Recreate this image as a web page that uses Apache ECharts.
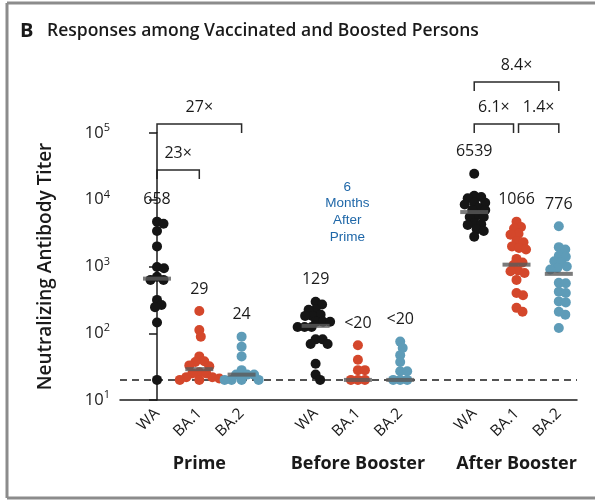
<!DOCTYPE html>
<html><head><meta charset="utf-8">
<script src="https://cdn.jsdelivr.net/npm/echarts@6/dist/echarts.min.js"></script>
<style>html,body{margin:0;padding:0;background:#fff}#c{width:595px;height:500px}</style>
</head><body><div id="c"></div><script>
// ---- data ----
const groupNames = ['Prime', 'Before Booster', 'After Booster'];
const variantNames = ['WA', 'BA.1', 'BA.2'];
const positions = [0, 1, 2, 3.75, 4.75, 5.75, 7.5, 8.5, 9.5];
const geoMeanValues = [658, 29, 24, 129, 20, 20, 6539, 1066, 776];
const geoMeanLabels = ['658', '29', '24', '129', '<20', '<20', '6539', '1066', '776'];
const primeWA = [4700, 4365, 3400, 2000, 980, 940, 700, 630, 630, 316, 265, 246, 145, 20];
const primeBA1 = [215, 112, 89, 45, 38, 37, 33, 32, 26, 25, 25, 22, 22, 21, 20, 20];
const primeBA2 = [89, 63, 45, 28, 24, 24, 24, 20, 20, 20, 20];
const beforeWA = [296, 270, 224, 224, 190, 182, 182, 149, 149, 149, 124, 124, 124, 81, 81, 69, 69, 35, 24, 20];
const beforeBA1 = [66, 40, 28, 28, 20, 20, 20];
const beforeBA2 = [75, 60, 47, 37, 27, 27, 20, 20, 20];
const afterWA = [24500, 11500, 11000, 10500, 9000, 9000, 8500, 7500, 7000, 7000, 5800, 5500, 5500, 4500, 4300, 4200, 3600, 3400, 2800];
const afterBA1 = [4700, 3900, 3700, 3100, 3000, 2400, 2300, 2000, 1900, 1800, 1300, 1150, 1050, 870, 850, 800, 630, 400, 370, 240, 210];
const afterBA2 = [4000, 1950, 1800, 1450, 1400, 1200, 1150, 1000, 950, 900, 570, 560, 420, 400, 300, 290, 210, 190, 120];
const limitOfDetection = 20;
const foldLabels = ['23×', '27×', '6.1×', '1.4×', '8.4×'];
const foldFrom = [0, 0, 6, 7, 6];
const foldTo = [1, 2, 7, 8, 8];
const foldLevel = [0, 1, 1, 1, 2];
// ---- style ----
const allValues = [primeWA, primeBA1, primeBA2, beforeWA, beforeBA1, beforeBA2, afterWA, afterBA1, afterBA2];
const colors = ['#151515', '#d4472b', '#5e9cb8'];
const FONT = 'Open Sans';
const TXT = '#1a1a1a';

// deterministic beeswarm layout (pixel-space spacing, returned in data units)
function swarm(values, center) {
  const pxX = 42.3, pxY = 66.7, minD = 6.8, step = 0.5;
  const placed = [];
  const sorted = values.slice().sort((a, b) => b - a);
  return sorted.map(v => {
    const py = Math.log10(v) * pxY;
    let best = 0;
    for (let k = 0; k < 400; k++) {
      const off = (k === 0 ? 0 : (k % 2 ? 1 : -1) * Math.ceil(k / 2) * step);
      const ok = placed.every(p => Math.hypot(p[0] - off, p[1] - py) >= minD);
      if (ok) { best = off; break; }
    }
    placed.push([best, py]);
    return [center + best / pxX, v];
  });
}

const chart = echarts.init(document.getElementById('c'), null, {renderer: 'canvas'});
const series = allValues.map((vals, i) => {
  const pts = swarm(vals, positions[i]);
  // the highest point carries the group's geometric-mean label
  const data = pts.map((pt, j) => j === 0 ? {
    value: pt,
    label: {
      show: true, position: 'top', distance: 9,
      formatter: geoMeanLabels[i],
      fontFamily: FONT, fontSize: 16, color: TXT, opacity: 1
    }
  } : pt);
  return {
    type: 'scatter',
    xAxisIndex: 0, yAxisIndex: 0,
    symbol: 'circle',
    symbolSize: 10,
    itemStyle: {color: colors[i % 3], opacity: 1},
    data: data,
    z: 2
  };
});
series.push({
  type: 'scatter',
  symbol: 'rect',
  symbolSize: [28, 4],
  itemStyle: {color: '#5a5a5a'},
  data: positions.map((p, i) => [p, geoMeanValues[i]]),
  z: 5,
  markLine: {
    silent: true,
    symbol: 'none',
    label: {show: false},
    lineStyle: {type: [7, 5], color: '#1b1b1b', width: 1.5},
    data: [{yAxis: limitOfDetection}],
    z: 1
  }
});

chart.setOption({
  animation: false,
  textStyle: {fontFamily: FONT},
  grid: {left: 120, right: 18, top: 133, bottom: 100},
  xAxis: [{
    type: 'value', min: -0.875, max: 9.93,
    axisLine: {show: true, onZero: false, lineStyle: {color: TXT, width: 1.5}},
    axisTick: {show: false},
    splitLine: {show: false},
    axisLabel: {
      customValues: positions,
      rotate: 45, margin: 11,
      fontFamily: FONT, fontSize: 15.5, color: TXT,
      formatter: v => variantNames[positions.indexOf(v) % 3]
    }
  }, {
    type: 'value', min: -0.875, max: 9.93, position: 'bottom',
    axisLine: {show: false}, axisTick: {show: false}, splitLine: {show: false},
    axisLabel: {
      customValues: [positions[1], positions[4], positions[7]],
      margin: 55,
      fontFamily: FONT, fontSize: 18, fontWeight: 700, color: TXT,
      formatter: v => groupNames[[positions[1], positions[4], positions[7]].indexOf(v)]
    }
  }],
  yAxis: {
    type: 'log', logBase: 10, min: 10, max: 100000,
    name: 'Neutralizing Antibody Titer', nameLocation: 'middle', nameGap: 65,
    nameTextStyle: {fontFamily: FONT, fontSize: 19, fontWeight: 600, color: TXT},
    axisLine: {show: true, lineStyle: {color: TXT, width: 1.5}},
    axisTick: {show: true, length: 8, lineStyle: {color: TXT, width: 1.5}},
    splitLine: {show: false},
    minorTick: {show: false},
    axisLabel: {
      margin: 10, color: TXT, fontFamily: FONT, fontSize: 16.5,
      formatter: v => '10{sup|' + Math.round(Math.log10(v)) + '}',
      rich: {sup: {fontSize: 11, fontFamily: FONT, color: TXT, padding: [0, 0, 10, 0]}}
    }
  },
  series: series,
  graphic: []
});

// annotation overlays: frame, title, brackets, note
const g = [];
g.push({type: 'line', shape: {x1: 7, y1: 3, x2: 7, y2: 498}, style: {stroke: '#8c8c8c', lineWidth: 3}});
g.push({type: 'line', shape: {x1: 7, y1: 3, x2: 595, y2: 3}, style: {stroke: '#8c8c8c', lineWidth: 3}});
g.push({type: 'line', shape: {x1: 7, y1: 498, x2: 595, y2: 498}, style: {stroke: '#8c8c8c', lineWidth: 3}});
g.push({type: 'text', x: 20, y: 31, style: {text: 'B', font: '700 20px "' + FONT + '"', fill: TXT, verticalAlign: 'middle'}});
g.push({type: 'text', x: 47, y: 31, style: {text: 'Responses among Vaccinated and Boosted Persons', font: '600 17.5px "' + FONT + '"', fill: TXT, verticalAlign: 'middle'}});
const noteX = chart.convertToPixel({xAxisIndex: 0}, (positions[3] + positions[5]) / 2 - 0.25);
g.push({type: 'text', x: noteX, y: 212, style: {text: '6\nMonths\nAfter\nPrime', font: '13.5px "Liberation Sans"', fill: '#1f67a8', align: 'center', verticalAlign: 'middle', lineHeight: 16.7}});
const levelY = [170, 124, 82];
foldLabels.forEach((t, i) => {
  let x1 = chart.convertToPixel({xAxisIndex: 0}, positions[foldFrom[i]]);
  let x2 = chart.convertToPixel({xAxisIndex: 0}, positions[foldTo[i]]);
  if (i === 2) x2 -= 3;
  if (i === 3) x1 += 2;
  const y = levelY[foldLevel[i]];
  g.push({type: 'polyline', shape: {points: [[x1, y + 9], [x1, y], [x2, y], [x2, y + 9]]}, style: {stroke: '#2a2a2a', lineWidth: 1.5, fill: null}});
  g.push({type: 'text', x: (x1 + x2) / 2, y: y - 17, style: {text: t, font: '16px "' + FONT + '"', fill: TXT, align: 'center', verticalAlign: 'middle'}});
});
chart.setOption({graphic: g});
</script></body></html>
